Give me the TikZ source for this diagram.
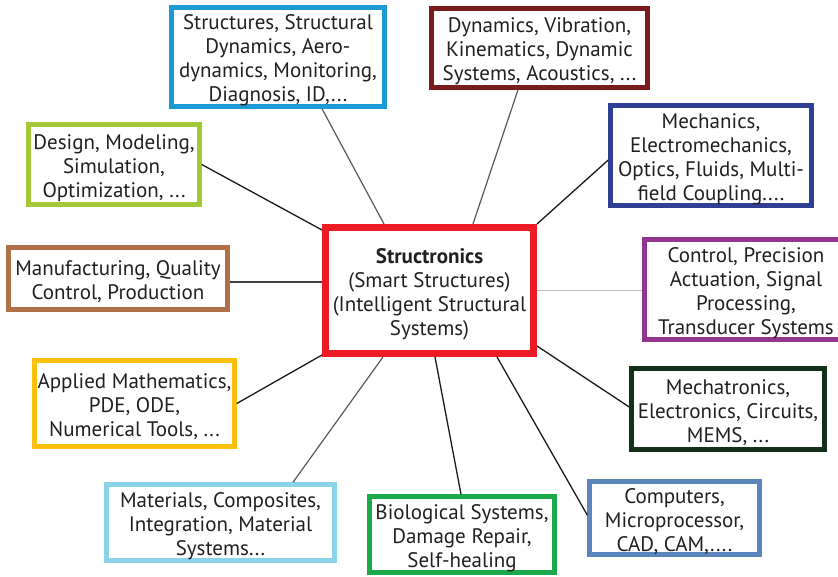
\documentclass[tikz,border=0pt]{standalone}
\usepackage{fontspec}
\setmainfont{PT Sans}
\definecolor{ink}{HTML}{231F20}
\definecolor{cStruct}{HTML}{1B9AD6}
\definecolor{cDyn}{HTML}{7B1C1C}
\definecolor{cMech}{HTML}{2E3F94}
\definecolor{cDesign}{HTML}{A3C83A}
\definecolor{cManuf}{HTML}{B0704A}
\definecolor{cCtrl}{HTML}{93358F}
\definecolor{cMath}{HTML}{FBC10A}
\definecolor{cTronic}{HTML}{13301A}
\definecolor{cMater}{HTML}{8AD3E8}
\definecolor{cBio}{HTML}{1AAA4A}
\definecolor{cComp}{HTML}{5B86BD}
\definecolor{cCore}{HTML}{ED1C24}
% taller first line, so the text block sits a little lower in its box
\newcommand\tstrut{\rule{0pt}{22pt}}
\begin{document}
\begin{tikzpicture}[x=1pt,y=-1pt,
  topic/.style={draw, fill=white, line width=4.5pt, inner sep=0pt, align=center,
    text=ink, font=\fontsize{21}{24}\selectfont},
  link/.style={line width=1.3pt, draw=black!90},
  greylink/.style={line width=1.2pt, draw=black!65},
  faintlink/.style={line width=0.8pt, draw=black!25}]
\useasboundingbox (0,0) rectangle (838,576);

% central box
\node[topic, draw=cCore, line width=7pt, minimum width=208pt, minimum height=126pt] (core) at (429.5,290.5)
  {\tstrut\textbf{Structronics}\\(Smart Structures)\\(Intelligent Structural\\Systems)};

% surrounding topics
\node[topic, draw=cStruct, minimum width=213pt, minimum height=99pt] (struct) at (278,57)
  {\tstrut Structures, Structural\\Dynamics, Aero-\\dynamics, Monitoring,\\Diagnosis, ID,...};
\node[topic, draw=cDyn, minimum width=216pt, minimum height=79pt] (dyn) at (539.5,48)
  {\tstrut Dynamics, Vibration,\\Kinematics, Dynamic\\Systems, Acoustics, ...};
\node[topic, draw=cMech, minimum width=201pt, minimum height=100pt] (mech) at (711,155.5)
  {\tstrut Mechanics,\\Electromechanics,\\Optics, Fluids, Multi-\\field Coupling....};
\node[topic, draw=cDesign, minimum width=171pt, minimum height=80pt] (design) at (114,164.5)
  {\tstrut Design, Modeling,\\Simulation,\\Optimization, ...};
\node[topic, draw=cManuf, minimum width=219pt, minimum height=62pt] (manuf) at (118,278.5)
  {\tstrut Manufacturing, Quality\\Control, Production};
\node[topic, draw=cCtrl, minimum width=203pt, minimum height=100pt] (ctrl) at (746,289.5)
  {\tstrut Control, Precision\\Actuation, Signal\\Processing,\\Transducer Systems};
\node[topic, draw=cMath, minimum width=200pt, minimum height=86pt] (math) at (134.5,403.5)
  {\tstrut Applied Mathematics,\\PDE, ODE,\\Numerical Tools, ...};
\node[topic, draw=cTronic, minimum width=193pt, minimum height=81pt] (tronic) at (728,409)
  {\tstrut Mechatronics,\\Electronics, Circuits,\\MEMS, ...};
\node[topic, draw=cMater, minimum width=228pt, minimum height=76pt] (mater) at (220.5,522.5)
  {\tstrut Materials, Composites,\\Integration, Material\\Systems...};
\node[topic, draw=cBio, minimum width=185pt, minimum height=76pt] (bio) at (462,534.5)
  {\tstrut Biological Systems,\\Damage Repair,\\Self-healing};
\node[topic, draw=cComp, minimum width=170pt, minimum height=71pt] (comp) at (674.5,518)
  {\tstrut Computers,\\Microprocessor,\\CAD, CAM,....};

% connectors
\draw[greylink] ([xshift=44pt]struct.south) -- ([xshift=-45.5pt]core.north);
\draw[greylink] ([xshift=-21.5pt]dyn.south) -- ([xshift=43.5pt]core.north);
\draw[link] ([yshift=-4.5pt]mech.west) -- (core.north east);
\draw[link] (design.east) -- ([yshift=-6pt]core.north west);
\draw[link, draw=black!75] ([yshift=-3.5pt]manuf.east) -- ([yshift=-3.5pt]manuf.east -| core.west);
\draw[faintlink] (core.east) -- (core.east -| ctrl.west);
\draw[link] ([yshift=11pt]core.south east) -- ([yshift=2pt]tronic.west);
\draw[link] (math.east) -- ([yshift=2pt]core.south west);
\draw[greylink] ([xshift=72.5pt]mater.north) -- ([xshift=-46.5pt]core.south);
\draw[link] ([xshift=-1pt]bio.north) -- ([xshift=5.5pt]core.south);
\draw[link] ([xshift=67.5pt]core.south) -- ([yshift=3pt]comp.west);
\end{tikzpicture}
\end{document}
